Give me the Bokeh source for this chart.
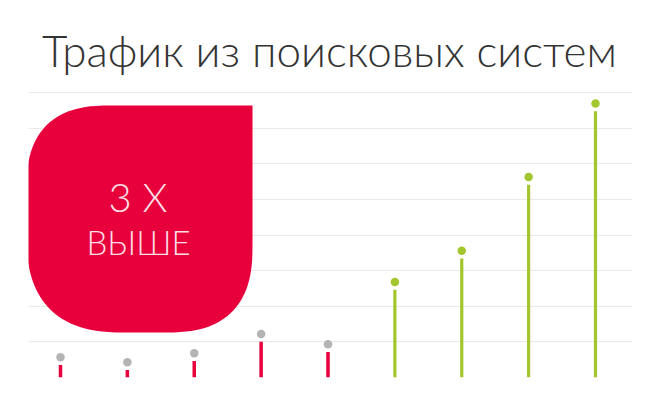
import numpy as np
from bokeh.plotting import figure
from bokeh.models import FixedTicker, ColumnDataSource
from bokeh.core.properties import value
from bokeh.embed import file_html
from bokeh.resources import INLINE

# ---- data ----
positions = [0, 1, 2, 3, 4, 5, 6, 7, 8]
before_vals = [0.57, 0.43, 0.68, 1.22, 0.93]
after_vals = [2.68, 3.56, 5.63, 7.69]
grid_ticks = [0, 1, 2, 3, 4, 5, 6, 7, 8]
title_text = "Трафик из поисковых систем"
badge_top = "3 X"
badge_bottom = "ВЫШЕ"

RED = "#E8003D"
GREEN = "#A3C62E"
GREY = "#B4B4B4"
LIGHT = value("'Lato Light', 'Roboto Light', 'Open Sans Light', Lato, sans-serif")

W, H = 640, 395
ML, MR, MT, MB = 28, 8, 0, 18
FW, FH = W - ML - MR, H - MT - MB
XSTEP = 66.875
YSTEP = 35.625
x0 = -32 / XSTEP
x1 = x0 + FW / XSTEP
y1 = FH / YSTEP

p = figure(width=W, height=H, output_backend="svg", toolbar_location=None,
           x_range=(x0, x1), y_range=(0, y1),
           min_border_left=ML, min_border_right=MR, min_border_top=MT, min_border_bottom=MB)
p.axis.visible = False
p.xgrid.visible = False
p.ygrid.ticker = FixedTicker(ticks=grid_ticks)
p.ygrid.grid_line_color = "#e9e9e9"
p.ygrid.grid_line_width = 1
p.outline_line_color = None
p.background_fill_color = "white"
p.border_fill_color = "white"

# screen px -> data helpers (for decorations only)
def dx(px):
    return x0 + (px - 28) / XSTEP

def dy(py):
    return (377 - py) / YSTEP

# ---- badge blob ----
def corner(cx, cy, r, a0, a1, n=2.6, k=30):
    t = np.linspace(np.radians(a0), np.radians(a1), k)
    c, s = np.cos(t), np.sin(t)
    xs = cx + r * np.sign(c) * np.abs(c) ** (2 / n)
    ys = cy + r * np.sign(s) * np.abs(s) ** (2 / n)
    return list(xs), list(ys)

L, R, T, B = 26, 252, 105, 332
rbr, rbl, rtl = 88, 100, 85
bx, by = [R], [T]
for cx, cy, r, a0, a1 in [(R - rbr, B - rbr, rbr, 0, 90),
                          (L + rbl, B - rbl, rbl, 90, 180),
                          (L + rtl, T + rtl, rtl, 180, 270)]:
    xs, ys = corner(cx, cy, r, a0, a1)
    bx += xs
    by += ys
p.patch([dx(v) for v in bx], [dy(v) for v in by], fill_color=RED, line_color=None)

p.text(x=[dx(137.5)], y=[dy(196)], text=[badge_top], text_align="center",
       text_baseline="alphabetic", text_font=LIGHT,
       text_font_size="40px", text_color="white", text_alpha=0.88)
p.text(x=[dx(138)], y=[dy(241)], text=[badge_bottom], text_align="center",
       text_baseline="alphabetic", text_font=LIGHT,
       text_font_size="33px", text_color="white", text_alpha=0.88)

# ---- stems ----
gap = 7.7 / YSTEP
bsrc = ColumnDataSource(dict(x=positions[:5], v=before_vals,
                             top=[v - gap for v in before_vals], zero=[0] * 5))
asrc = ColumnDataSource(dict(x=positions[5:], v=after_vals,
                             top=[v - gap for v in after_vals], zero=[0] * 4))
p.segment(x0="x", y0="zero", x1="x", y1="top", source=bsrc, line_color=RED, line_width=3.5)
p.scatter(x="x", y="v", source=bsrc, size=8.5, fill_color=GREY, line_color=None)
p.segment(x0="x", y0="zero", x1="x", y1="top", source=asrc, line_color=GREEN, line_width=3.2)
p.scatter(x="x", y="v", source=asrc, size=8.5, fill_color=GREEN, line_color=None)

# ---- title ----
p.text(x=[dx(329)], y=[dy(49)], text=[title_text], text_align="center",
       text_baseline="alphabetic", text_font=LIGHT,
       text_font_size="44px", text_color="#333333")

open("out.html", "w").write(file_html(p, INLINE))
